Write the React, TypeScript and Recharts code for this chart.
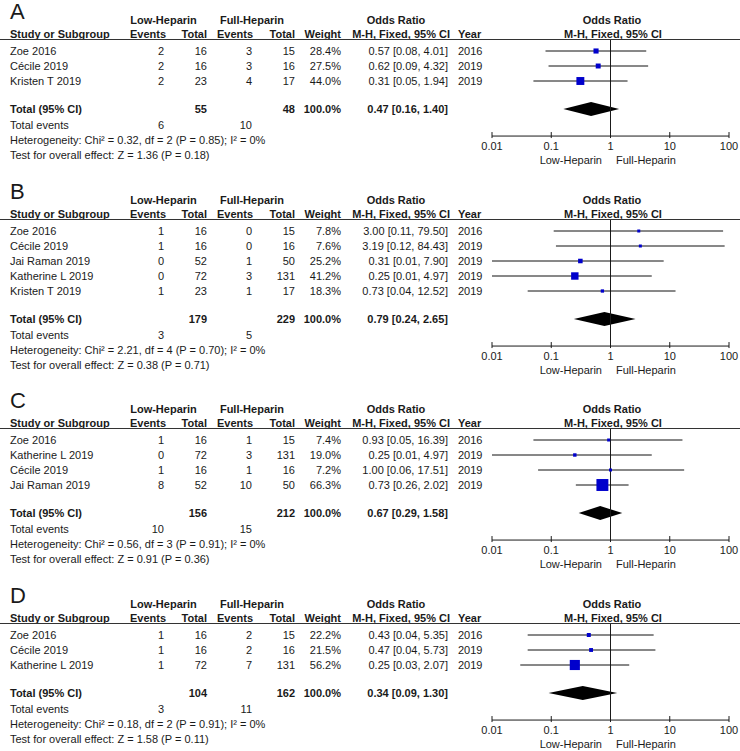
import React from "react"
import { ComposedChart, XAxis, YAxis, Scatter, ErrorBar, ReferenceLine, ReferenceArea } from "recharts"

// panel A
const studiesA = ["Zoe 2016", "Cécile 2019", "Kristen T 2019"]
const lowEventsA = [2, 2, 2]
const lowTotalA = [16, 16, 23]
const fullEventsA = [3, 3, 4]
const fullTotalA = [15, 16, 17]
const weightA = [28.4, 27.5, 44.0]
const orA = [0.57, 0.62, 0.31]
const loA = [0.08, 0.09, 0.05]
const hiA = [4.01, 4.32, 1.94]
const yearA = [2016, 2019, 2019]
const pooledA = { lowTotal: 55, fullTotal: 48, or: 0.47, lo: 0.16, hi: 1.4, lowEvents: 6, fullEvents: 10 }
const hetA = "Heterogeneity: Chi² = 0.32, df = 2 (P = 0.85); I² = 0%"
const testA = "Test for overall effect: Z = 1.36 (P = 0.18)"

// panel B
const studiesB = ["Zoe 2016", "Cécile 2019", "Jai Raman 2019", "Katherine L 2019", "Kristen T 2019"]
const lowEventsB = [1, 1, 0, 0, 1]
const lowTotalB = [16, 16, 52, 72, 23]
const fullEventsB = [0, 0, 1, 3, 1]
const fullTotalB = [15, 16, 50, 131, 17]
const weightB = [7.8, 7.6, 25.2, 41.2, 18.3]
const orB = [3.0, 3.19, 0.31, 0.25, 0.73]
const loB = [0.11, 0.12, 0.01, 0.01, 0.04]
const hiB = [79.5, 84.43, 7.9, 4.97, 12.52]
const yearB = [2016, 2019, 2019, 2019, 2019]
const pooledB = { lowTotal: 179, fullTotal: 229, or: 0.79, lo: 0.24, hi: 2.65, lowEvents: 3, fullEvents: 5 }
const hetB = "Heterogeneity: Chi² = 2.21, df = 4 (P = 0.70); I² = 0%"
const testB = "Test for overall effect: Z = 0.38 (P = 0.71)"

// panel C
const studiesC = ["Zoe 2016", "Katherine L 2019", "Cécile 2019", "Jai Raman 2019"]
const lowEventsC = [1, 0, 1, 8]
const lowTotalC = [16, 72, 16, 52]
const fullEventsC = [1, 3, 1, 10]
const fullTotalC = [15, 131, 16, 50]
const weightC = [7.4, 19.0, 7.2, 66.3]
const orC = [0.93, 0.25, 1.0, 0.73]
const loC = [0.05, 0.01, 0.06, 0.26]
const hiC = [16.39, 4.97, 17.51, 2.02]
const yearC = [2016, 2019, 2019, 2019]
const pooledC = { lowTotal: 156, fullTotal: 212, or: 0.67, lo: 0.29, hi: 1.58, lowEvents: 10, fullEvents: 15 }
const hetC = "Heterogeneity: Chi² = 0.56, df = 3 (P = 0.91); I² = 0%"
const testC = "Test for overall effect: Z = 0.91 (P = 0.36)"

// panel D
const studiesD = ["Zoe 2016", "Cécile 2019", "Katherine L 2019"]
const lowEventsD = [1, 1, 1]
const lowTotalD = [16, 16, 72]
const fullEventsD = [2, 2, 7]
const fullTotalD = [15, 16, 131]
const weightD = [22.2, 21.5, 56.2]
const orD = [0.43, 0.47, 0.25]
const loD = [0.04, 0.04, 0.03]
const hiD = [5.35, 5.73, 2.07]
const yearD = [2016, 2019, 2019]
const pooledD = { lowTotal: 104, fullTotal: 162, or: 0.34, lo: 0.09, hi: 1.3, lowEvents: 3, fullEvents: 11 }
const hetD = "Heterogeneity: Chi² = 0.18, df = 2 (P = 0.91); I² = 0%"
const testD = "Test for overall effect: Z = 1.58 (P = 0.11)"

const axisTicks = [0.01, 0.1, 1, 10, 100]

const panels = [
  { letter: "A", top: 0, studies: studiesA, lowEvents: lowEventsA, lowTotal: lowTotalA, fullEvents: fullEventsA, fullTotal: fullTotalA, weight: weightA, or: orA, lo: loA, hi: hiA, year: yearA, pooled: pooledA, het: hetA, test: testA },
  { letter: "B", top: 180, studies: studiesB, lowEvents: lowEventsB, lowTotal: lowTotalB, fullEvents: fullEventsB, fullTotal: fullTotalB, weight: weightB, or: orB, lo: loB, hi: hiB, year: yearB, pooled: pooledB, het: hetB, test: testB },
  { letter: "C", top: 389, studies: studiesC, lowEvents: lowEventsC, lowTotal: lowTotalC, fullEvents: fullEventsC, fullTotal: fullTotalC, weight: weightC, or: orC, lo: loC, hi: hiC, year: yearC, pooled: pooledC, het: hetC, test: testC },
  { letter: "D", top: 584, studies: studiesD, lowEvents: lowEventsD, lowTotal: lowTotalD, fullEvents: fullEventsD, fullTotal: fullTotalD, weight: weightD, or: orD, lo: loD, hi: hiD, year: yearD, pooled: pooledD, het: hetD, test: testD },
]

const FONT = "Arial, 'Liberation Sans', Helvetica, sans-serif"
const INK = "#1a1a1a"
const ROW = 15
const FIRST_ROW = 51
const rowY = (r: number) => FIRST_ROW + ROW * r
const ciText = (or: number, lo: number, hi: number) => `${or.toFixed(2)} [${lo.toFixed(2)}, ${hi.toFixed(2)}]`

function AxisTick({ x, y, payload }: any) {
  return (
    <g>
      <line x1={x} x2={x} y1={y - 4} y2={y + 2} stroke={INK} />
      <text x={x} y={y + 14} textAnchor="middle" fontSize={11} fontFamily={FONT} fill={INK}>
        {String(payload.value)}
      </text>
    </g>
  )
}

function Panel({ p }: { p: any }) {
  const n = p.studies.length
  const H = Math.min(135 + ROW * n, 751 - p.top)
  const totalRow = n + 0.87
  const axisRow = n + 2.67
  const yMin = (39.5 - FIRST_ROW) / ROW
  const axisY = rowY(axisRow)
  const xAxisH = 30

  const data = p.studies.map((name: string, i: number) => ({
    name,
    or: p.or[i],
    row: i,
    weight: p.weight[i],
    err: [p.or[i] - p.lo[i], p.hi[i] - p.or[i]],
  }))

  const P = p.pooled
  const frac = (Math.log(P.or) - Math.log(P.lo)) / (Math.log(P.hi) - Math.log(P.lo))

  const t = (x: number, r: number, s: any, anchor = "start", bold = false) => (
    <text x={x} y={rowY(r) + 4} textAnchor={anchor} fontWeight={bold ? "bold" : "normal"}>
      {s}
    </text>
  )

  const hdr = (x: number, y: number, s: string, anchor: string) => (
    <text x={x} y={y} textAnchor={anchor} fontWeight="bold">{s}</text>
  )

  return (
    <div style={{ position: "absolute", left: 0, top: p.top, width: 740, height: H }}>
      <ComposedChart width={740} height={H} margin={{ top: 39.5, right: 11, left: 492, bottom: H - axisY - xAxisH }}>
        <XAxis
          type="number"
          dataKey="or"
          scale="log"
          domain={[0.01, 100]}
          ticks={axisTicks}
          interval={0}
          allowDataOverflow
          height={xAxisH}
          axisLine={{ stroke: INK }}
          tickLine={false}
          tickSize={0}
          tickMargin={0}
          tick={<AxisTick />}
        />
        <YAxis type="number" dataKey="row" domain={[yMin, axisRow]} reversed hide allowDataOverflow />
        <ReferenceLine x={1} stroke={INK} strokeWidth={1} />
        <ReferenceArea
          x1={P.lo}
          x2={P.hi}
          y1={totalRow - 0.47}
          y2={totalRow + 0.47}
          shape={(s: any) => {
            const cx = s.x + s.width * frac
            const cy = s.y + s.height / 2
            return (
              <polygon
                points={`${s.x},${cy} ${cx},${s.y} ${s.x + s.width},${cy} ${cx},${s.y + s.height}`}
                fill="#000"
              />
            )
          }}
        />
        <Scatter
          data={data}
          isAnimationActive={false}
          shape={(s: any) => {
            const side = Math.max(3, s.payload.weight * 0.18)
            return <rect x={s.cx - side / 2} y={s.cy - side / 2} width={side} height={side} fill="#0000CC" />
          }}
        >
          <ErrorBar dataKey="err" direction="x" width={0} stroke="#111" strokeWidth={1} isAnimationActive={false} />
        </Scatter>
      </ComposedChart>

      <svg
        width={740}
        height={H}
        style={{ position: "absolute", left: 0, top: 0, pointerEvents: "none" }}
        fontFamily={FONT}
        fontSize={11}
        fill={INK}
      >
        <text x={10} y={19} fontSize={22}>{p.letter}</text>
        {hdr(163.5, 24, "Low-Heparin", "middle")}
        {hdr(252, 24, "Full-Heparin", "middle")}
        {hdr(396, 24, "Odds Ratio", "middle")}
        {hdr(612, 24, "Odds Ratio", "middle")}
        {hdr(10, 38, "Study or Subgroup", "start")}
        {hdr(166, 38, "Events", "end")}
        {hdr(207, 38, "Total", "end")}
        {hdr(253, 38, "Events", "end")}
        {hdr(295, 38, "Total", "end")}
        {hdr(341, 38, "Weight", "end")}
        {hdr(450, 38, "M-H, Fixed, 95% CI", "end")}
        {hdr(458, 38, "Year", "start")}
        {hdr(613, 38, "M-H, Fixed, 95% CI", "middle")}
        <line x1={0} x2={740} y1={39.5} y2={39.5} stroke="#333" />

        {p.studies.map((name: string, i: number) => (
          <g key={name}>
            {t(10, i, name)}
            {t(164, i, p.lowEvents[i], "end")}
            {t(207, i, p.lowTotal[i], "end")}
            {t(252, i, p.fullEvents[i], "end")}
            {t(295, i, p.fullTotal[i], "end")}
            {t(341, i, `${p.weight[i].toFixed(1)}%`, "end")}
            {t(448, i, ciText(p.or[i], p.lo[i], p.hi[i]), "end")}
            {t(458, i, p.year[i])}
          </g>
        ))}

        {t(10, totalRow, "Total (95% CI)", "start", true)}
        {t(207, totalRow, P.lowTotal, "end", true)}
        {t(295, totalRow, P.fullTotal, "end", true)}
        {t(341, totalRow, "100.0%", "end", true)}
        {t(448, totalRow, ciText(P.or, P.lo, P.hi), "end", true)}

        {t(10, n + 1.95, "Total events")}
        {t(164, n + 1.95, P.lowEvents, "end")}
        {t(252, n + 1.95, P.fullEvents, "end")}
        {t(10, n + 2.95, p.het)}
        {t(10, n + 3.95, p.test)}

        <text x={602} y={axisY + 28} textAnchor="end">Low-Heparin</text>
        <text x={616} y={axisY + 28} textAnchor="start">Full-Heparin</text>
      </svg>
    </div>
  )
}

export default function App() {
  return (
    <div
      style={{
        position: "absolute",
        left: 0,
        top: 0,
        width: 740,
        height: 751,
        overflow: "hidden",
        background: "#fff",
      }}
    >
      {panels.map((p) => (
        <Panel key={p.letter} p={p} />
      ))}
    </div>
  )
}
